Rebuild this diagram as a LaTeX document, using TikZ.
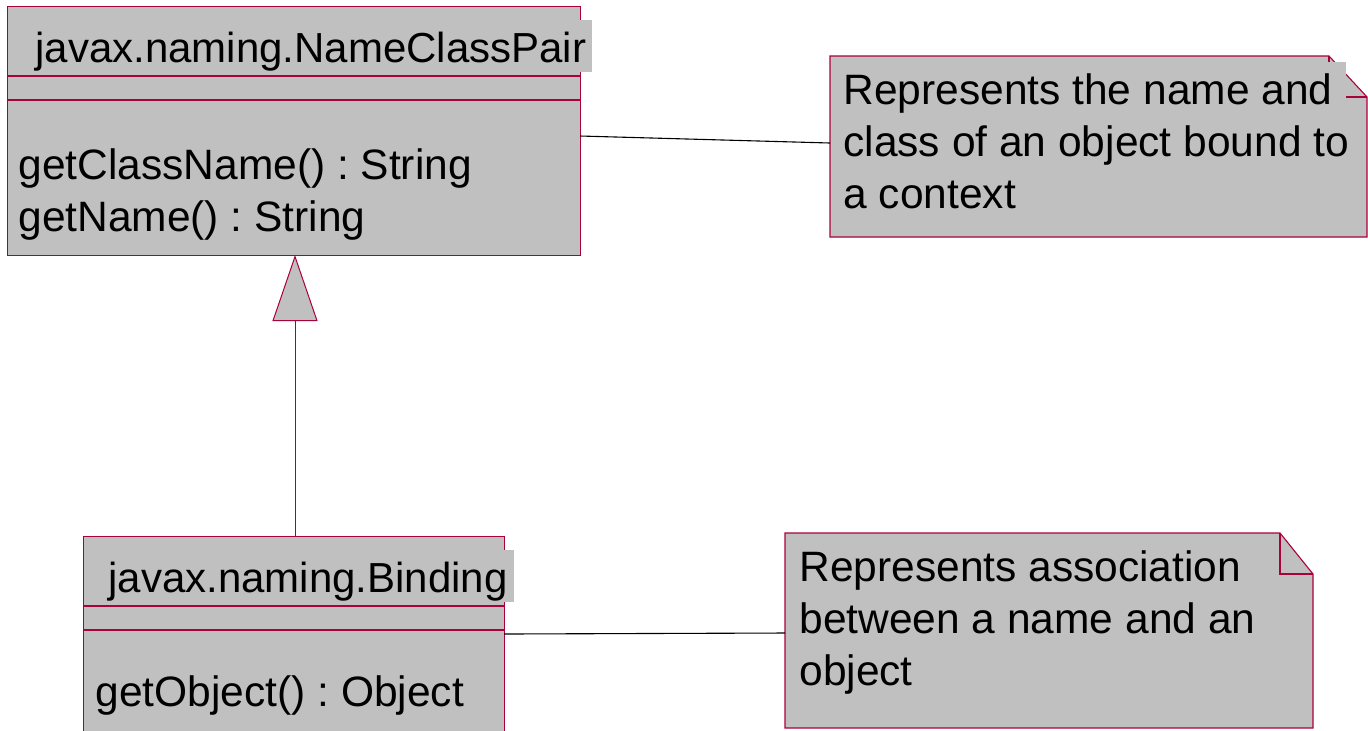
\documentclass[tikz,border=0pt]{standalone}
\usepackage{fontspec}
\setmainfont{Liberation Sans}
\usetikzlibrary{arrows.meta}

\definecolor{boxgray}{RGB}{192,192,192}
\definecolor{umlred}{RGB}{170,0,60}

\tikzset{
  border/.style={draw=umlred, line width=0.55pt},
  umlbox/.style={border, fill=boxgray, rectangle, inner sep=0pt, anchor=north west},
  txt/.style={anchor=base west, inner sep=0pt, font=\fontsize{21}{26}\selectfont\frenchspacing, text=black},
  bodytxt/.style={txt, font=\fontsize{21.25}{26}\selectfont\frenchspacing},
  link/.style={draw=black, line width=0.55pt},
  inherit/.style={draw=umlred, line width=0.5pt,
    -{Triangle[width=22.5pt, length=33pt, fill=boxgray]}},
}

\begin{document}
\frenchspacing
\begin{tikzpicture}[x=0.5pt, y=-0.5pt]
\useasboundingbox (0,0) rectangle (1368,730);
\clip (0,0) rectangle (1368,730);

% class javax.naming.NameClassPair
\node[umlbox, minimum width=286.5pt, minimum height=124.5pt] (pair) at (7,6) {};
\draw[border] (7,76) -- (580,76) (7,100) -- (580,100);
\fill[boxgray] (570,20) rectangle (592,72);
\node[txt] (pairname) at (35,62) {javax.naming.NameClassPair};
\node[bodytxt] (pairm1) at (18,179) {getClassName() : String};
\node[bodytxt] (pairm2) at (18,231) {getName() : String};

% class javax.naming.Binding
\node[umlbox, minimum width=210.5pt, minimum height=112pt] (bind) at (83,536) {};
\draw[border] (83,606) -- (504,606) (83,630) -- (504,630);
\fill[boxgray] (495,550) rectangle (514,602);
\node[txt] (bindname) at (108,592) {javax.naming.Binding};
\node[bodytxt] (bindm1) at (95,706) {getObject() : Object};

% note for NameClassPair
\path[border, fill=boxgray] (830,56) -- (1329,56) -- (1367,97) -- (1367,237) -- (830,237) -- cycle;
\draw[border] (1329,56) -- (1329,97) -- (1367,97);
\fill[boxgray] (1320,62) rectangle (1346,112);
\node[bodytxt] (n1a) at (843,104) {Represents the name and};
\node[bodytxt] (n1b) at (843,156) {class of an object bound to};
\node[bodytxt] (n1c) at (843,208) {a context};

% note for Binding
\path[border, fill=boxgray] (785,533) -- (1280,533) -- (1313,574) -- (1313,728) -- (785,728) -- cycle;
\draw[border] (1280,533) -- (1280,574) -- (1313,574);
\node[bodytxt] (n2a) at (799,581) {Represents association};
\node[bodytxt] (n2b) at (799,633) {between a name and an};
\node[bodytxt] (n2c) at (799,685) {object};

% connector end points on the box borders
\coordinate (pairR) at (580,136);
\coordinate (note1L) at (830,143);
\coordinate (bindR) at (504,634);
\coordinate (note2L) at (785,633);
\coordinate (bindT) at (295,536);
\coordinate (pairB) at (295,255);

% connectors
\draw[link] (pairR) -- (note1L);
\draw[link] (bindR) -- (note2L);
\draw[inherit] (bindT) -- (pairB);
\end{tikzpicture}
\end{document}
